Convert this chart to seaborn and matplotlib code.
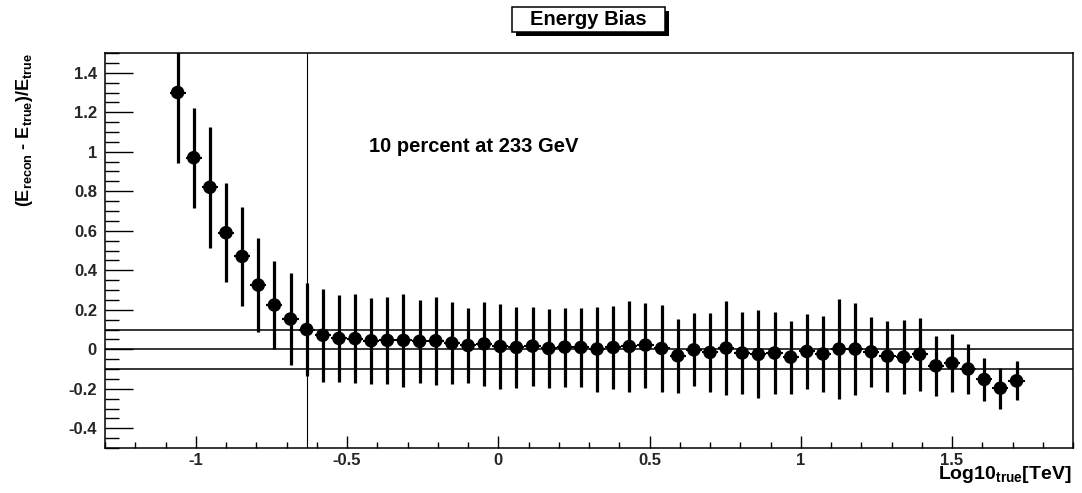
import numpy as np
import pandas as pd
import matplotlib
matplotlib.use("Agg")
import matplotlib.pyplot as plt
from matplotlib.patches import Rectangle
from matplotlib.ticker import MultipleLocator, FuncFormatter
import seaborn as sns

# Bin centres in log10(E_true / TeV)
log_e_true = [
    -1.06, -1.0067, -0.9533, -0.9, -0.8467, -0.7933, -0.74, -0.6867, -0.6333, -0.58,
    -0.5267, -0.4733, -0.42, -0.3667, -0.3133, -0.26, -0.2067, -0.1533, -0.1, -0.0467,
    0.0067, 0.06, 0.1133, 0.1667, 0.22, 0.2733, 0.3267, 0.38, 0.4333, 0.4867,
    0.54, 0.5933, 0.6467, 0.7, 0.7533, 0.8067, 0.86, 0.9133, 0.9667, 1.02,
    1.0733, 1.1267, 1.18, 1.2333, 1.2867, 1.34, 1.3933, 1.4467, 1.5, 1.5533,
    1.6067, 1.66, 1.7133,
]

# Mean relative energy bias (E_recon - E_true)/E_true per bin
bias = [
    1.30, 0.97, 0.82, 0.59, 0.47, 0.325, 0.224, 0.153, 0.10, 0.071,
    0.055, 0.054, 0.043, 0.045, 0.045, 0.040, 0.043, 0.031, 0.019, 0.027,
    0.014, 0.009, 0.016, 0.004, 0.011, 0.009, 0.001, 0.009, 0.014, 0.021,
    0.004, -0.033, -0.003, -0.016, 0.006, -0.019, -0.026, -0.019, -0.04, -0.011,
    -0.024, 0.001, 0.001, -0.013, -0.035, -0.04, -0.026, -0.084, -0.07, -0.10,
    -0.153, -0.197, -0.16,
]

# Spread (RMS) of the bias per bin
bias_err = [
    0.355, 0.254, 0.305, 0.25, 0.249, 0.236, 0.223, 0.233, 0.233, 0.236,
    0.22, 0.227, 0.218, 0.22, 0.235, 0.21, 0.222, 0.207, 0.19, 0.211,
    0.217, 0.205, 0.2, 0.2, 0.2, 0.2, 0.215, 0.21, 0.23, 0.215,
    0.22, 0.187, 0.185, 0.2, 0.238, 0.21, 0.223, 0.21, 0.185, 0.19,
    0.193, 0.253, 0.232, 0.177, 0.18, 0.187, 0.183, 0.153, 0.148, 0.125,
    0.11, 0.104, 0.099,
]

reference_levels = [0.1, 0.0, -0.1]
threshold_energy_gev = 233

df = pd.DataFrame({"logE": log_e_true, "bias": bias, "err": bias_err})

sns.set_theme(style="white")
plt.rcParams["font.family"] = ["Liberation Sans", "DejaVu Sans"]
plt.rcParams["font.weight"] = "bold"
plt.rcParams["axes.unicode_minus"] = False
plt.rcParams["mathtext.fontset"] = "custom"
plt.rcParams["mathtext.rm"] = "Liberation Sans:bold"
plt.rcParams["mathtext.it"] = "Liberation Sans:bold"
plt.rcParams["mathtext.bf"] = "Liberation Sans:bold"

W, H = 1082, 493
fig = plt.figure(figsize=(W / 100, H / 100), dpi=100)
fig.patch.set_facecolor("white")

left, right, top, bottom = 105, 1073, 53, 448
ax = fig.add_axes([left / W, 1 - bottom / H, (right - left) / W, (bottom - top) / H])
ax.set_facecolor("white")

half_bin = 0.02667

for lvl in reference_levels:
    ax.axhline(lvl, color="black", lw=1.1, zorder=1)
ax.axvline(np.log10(threshold_energy_gev / 1000.0), color="black", lw=0.8, zorder=1)

ax.errorbar(df["logE"], df["bias"], yerr=df["err"], fmt="none",
            ecolor="black", elinewidth=2.3, capsize=0, zorder=2)
ax.errorbar(df["logE"], df["bias"], xerr=half_bin, fmt="none",
            ecolor="black", elinewidth=1.5, capsize=0, zorder=2)
sns.scatterplot(data=df, x="logE", y="bias", ax=ax, color="black", s=95,
                edgecolor="none", linewidth=0, legend=False, zorder=3)

ax.set_xlim(-1.3, 1.9)
ax.set_ylim(-0.5, 1.5)
ax.set_xlabel("")
ax.set_ylabel("")

ax.xaxis.set_major_locator(MultipleLocator(0.5))
ax.xaxis.set_minor_locator(MultipleLocator(0.1))
ax.yaxis.set_major_locator(MultipleLocator(0.2))
ax.yaxis.set_minor_locator(MultipleLocator(0.05))
fmt = FuncFormatter(lambda v, p: ("%g" % round(v, 3)) if abs(v) > 1e-9 else "0")
ax.xaxis.set_major_formatter(fmt)
ax.yaxis.set_major_formatter(fmt)

ax.tick_params(axis="both", which="both", direction="in", top=False, right=False,
               left=True, bottom=True, color="black", width=1.0)
ax.tick_params(axis="y", which="major", length=20, pad=5.8, labelsize=12)
ax.tick_params(axis="y", which="minor", length=10)
ax.tick_params(axis="x", which="major", length=9, pad=3.6, labelsize=12)
ax.tick_params(axis="x", which="minor", length=4.5)
for lab in ax.get_xticklabels() + ax.get_yticklabels():
    lab.set_fontweight("bold")

for sp in ax.spines.values():
    sp.set_visible(True)
    sp.set_color("black")
    sp.set_linewidth(1.1)

ax.text(-0.428, 1.0, f"10 percent at {threshold_energy_gev} GeV", fontsize=14.5,
        fontweight="bold", ha="left", va="baseline", color="black")

# Axis titles
fig.text(1072 / W, 1 - 479 / H, r"Log10$_{\mathrm{true}}$[TeV]", ha="right",
         va="baseline", fontsize=14, fontweight="bold", color="black")
fig.text(14 / W, 1 - 53 / H,
         r"(E$_{\mathrm{recon}}$ - E$_{\mathrm{true}}$)/E$_{\mathrm{true}}$",
         rotation=90, ha="left", va="top", fontsize=13, fontweight="bold",
         color="black")

# Title box with drop shadow
bx0, bx1, by0, by1 = 511.7, 665, 6.7, 32.3
sh = 4
fig.patches.append(Rectangle(((bx0 + sh) / W, 1 - (by1 + sh) / H), (bx1 - bx0) / W,
                             (by1 - by0) / H, transform=fig.transFigure,
                             facecolor="black", edgecolor="none", zorder=5))
fig.patches.append(Rectangle((bx0 / W, 1 - by1 / H), (bx1 - bx0) / W, (by1 - by0) / H,
                             transform=fig.transFigure, facecolor="white",
                             edgecolor="black", linewidth=1.1, zorder=6))
fig.text((bx0 + bx1) / 2 / W, 1 - (by0 + by1) / 2 / H, "Energy Bias", ha="center",
         va="center", fontsize=14.5, fontweight="bold", color="black", zorder=7)

fig.savefig("out.png", dpi=100, facecolor="white")
